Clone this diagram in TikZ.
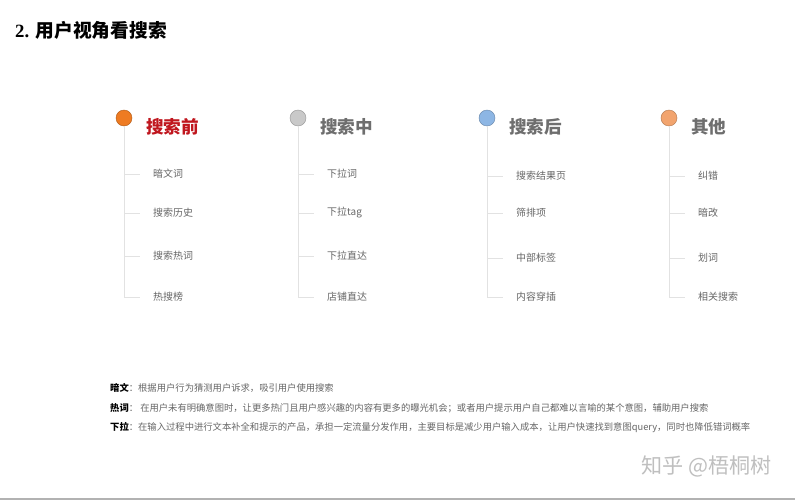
\documentclass[tikz,border=0pt]{standalone}
\usepackage{fontspec}
\setmainfont{Liberation Serif}
\newfontfamily\cjk{Noto Sans CJK SC}
\definecolor{dotorange}{HTML}{EE7B22}
\definecolor{dotgray}{HTML}{C9C9C9}
\definecolor{dotblue}{HTML}{8DB6E4}
\definecolor{dotsalmon}{HTML}{F2A46E}
\definecolor{headred}{HTML}{C0161E}
\definecolor{headgray}{HTML}{6E6E6E}
\definecolor{itemgray}{HTML}{666666}
\definecolor{linegray}{HTML}{E2E2E2}
\begin{document}
\begin{tikzpicture}[x=0.03cm, y=-0.03cm,
    every node/.style={inner sep=0pt, anchor=west},
    dot/.style={circle, draw=#1!75!black, fill=#1, minimum size=0.48cm, anchor=center, line width=0.4pt},
    head/.style={font=\cjk\fontsize{15}{18}\selectfont\bfseries, text=#1},
    item/.style={font=\cjk\fontsize{8.5}{10}\selectfont, text=itemgray},
    note/.style={font=\cjk\fontsize{7.95}{10}\selectfont, text=itemgray},
    stem/.style={draw=linegray, line width=0.7pt}]
    \useasboundingbox[fill=white] (0,0) rectangle (795,500);

    \node[font=\fontsize{16}{19}\selectfont\bfseries] (title) at (15,30) {2. {\cjk 用户视角看搜索}};

    % four columns: dot, heading, stem and items
    \foreach \cx/\dc/\hc/\hd/\its [count=\i] in {
        124/dotorange/headred/搜索前/{174/暗文词,213/搜索历史,256/搜索热词,297/热搜榜},
        298/dotgray/headgray/搜索中/{174/下拉词,213/下拉tag,256/下拉直达,297/店铺直达},
        487/dotblue/headgray/搜索后/{176/搜索结果页,213/筛排项,258/中部标签,297/内容穿插},
        669/dotsalmon/headgray/其他/{176/纠错,213/暗改,258/划词,297/相关搜索}} {
        \node[dot=\dc] (c\i) at (\cx,118) {};
        \node[head=\hc] (h\i) at (\cx+22,127) {\hd};
        \coordinate (e\i) at (\cx,298);
        \draw[stem] (c\i) -- (e\i);
        \foreach \ty/\t [count=\j] in \its {
            \node[item] (t\i-\j) at (\cx+29,\ty) {\t};
            \coordinate (k\i-\j) at (\cx,\ty);
            \draw[stem] (k\i-\j) -- ++(16,0);
        }
    }

    \node[note] (n1) at (110,388) {{\bfseries\color{black}暗文}：根据用户行为猜测用户诉求，吸引用户使用搜索};
    \node[note] (n2) at (110,408) {{\bfseries\color{black}热词}：\ 在用户未有明确意图时，让更多热门且用户感兴趣的内容有更多的曝光机会；或者用户提示用户自己都难以言喻的某个意图，辅助用户搜索};
    \node[note] (n3) at (110,428) {{\bfseries\color{black}下拉}：在输入过程中进行文本补全和提示的产品，承担一定流量分发作用，主要目标是减少用户输入成本，让用户快速找到意图query，同时也降低错词概率};

    \node[font=\cjk\fontsize{18}{20}\selectfont, text=black!25] (mark) at (641,466) {知乎 @梧桐树};
    \draw[black!30, line width=1pt] (0,499) -- (795,499);
\end{tikzpicture}
\end{document}
